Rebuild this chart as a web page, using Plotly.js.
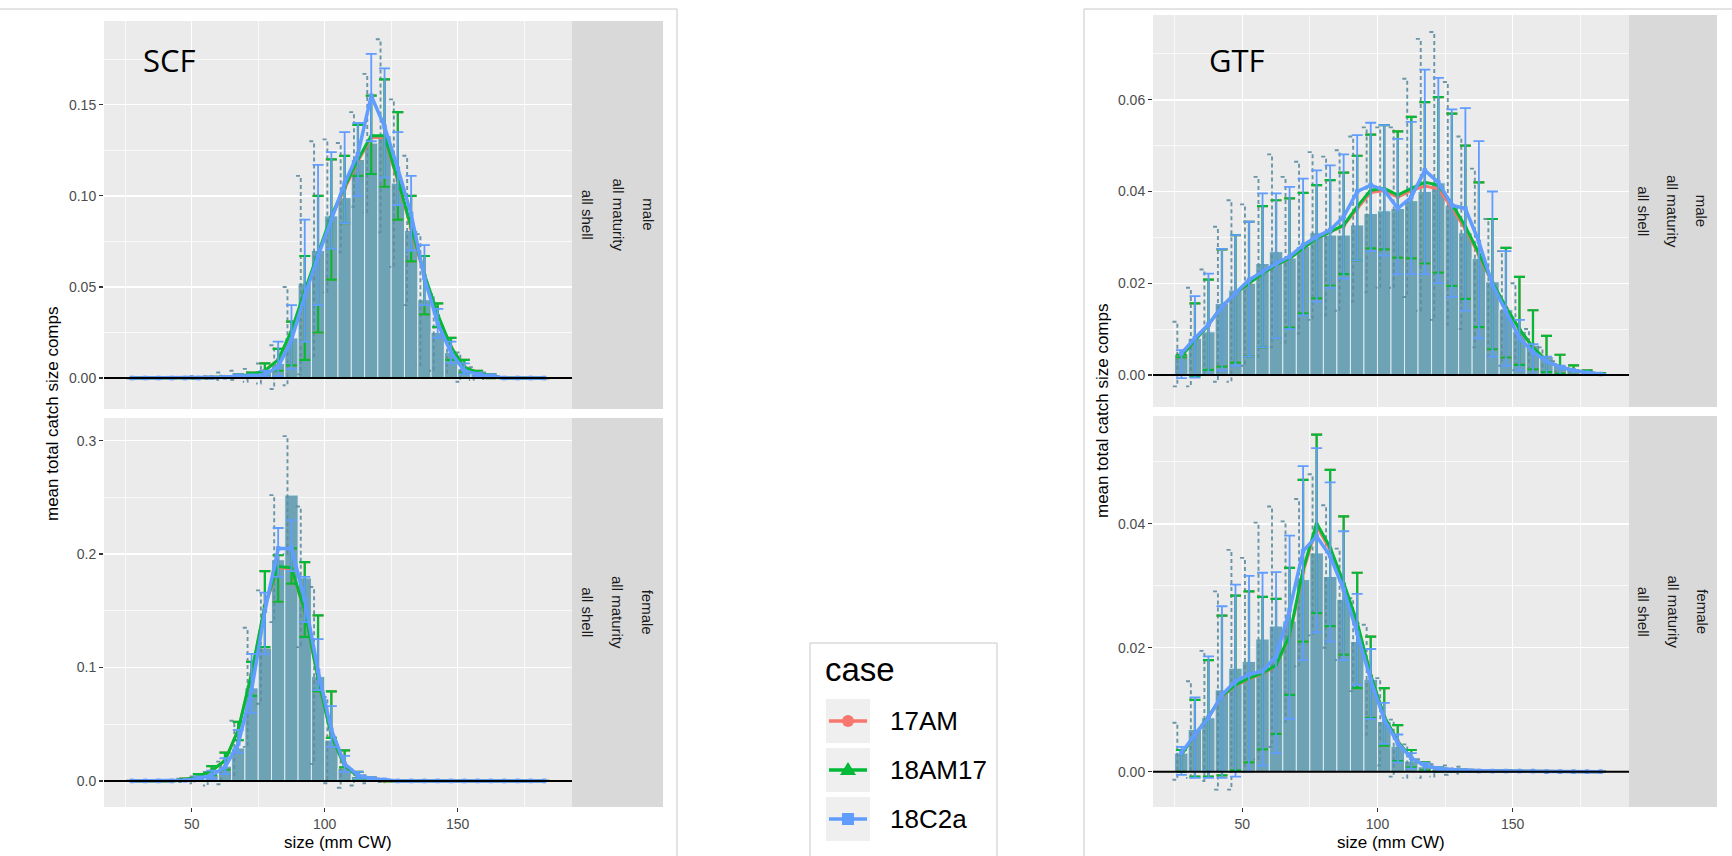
<!DOCTYPE html>
<html>
<head>
<meta charset="utf-8">
<script src="https://cdn.plot.ly/plotly-3.0.1.min.js"></script>
<style>
  html, body { margin: 0; padding: 0; background: #ffffff; }
  #chart { width: 1732px; height: 856px; }
</style>
</head>
<body>
<div id="chart"></div>
<script>
// size bins (mm CW)
const sizeBins = [27.5, 32.5, 37.5, 42.5, 47.5, 52.5, 57.5, 62.5, 67.5, 72.5, 77.5, 82.5, 87.5, 92.5, 97.5, 102.5,
                  107.5, 112.5, 117.5, 122.5, 127.5, 132.5, 137.5, 142.5, 147.5, 152.5, 157.5, 162.5, 167.5, 172.5, 177.5, 182.5];
const caseNames = ['17AM', '18AM17', '18C2a'];
const caseColors = ['#F8766D', '#00BA38', '#619CFF'];

// SCF male
const scfMaleObs   = [0,0,0,0,0,0.0003,0.0005,0.001,0.0015,0.002,0.004,0.008,0.022,0.052,0.070,0.089,0.099,0.120,0.129,0.133,0.107,0.081,0.043,0.025,0.014,0.005,0.002,0.001,0,0,0,0];
const scfMaleObsLo = [0,0,0,0,0,-0.0005,-0.0005,-0.001,-0.001,-0.002,-0.003,-0.006,-0.004,0.002,0.012,0.047,0.069,0.094,0.091,0.080,0.061,0.040,0.007,0.004,0.003,-0.002,-0.001,-0.0005,0,0,0,0];
const scfMaleObsHi = [0,0,0,0,0,0.001,0.001,0.003,0.004,0.005,0.008,0.018,0.050,0.111,0.130,0.131,0.129,0.146,0.167,0.186,0.153,0.122,0.079,0.046,0.025,0.014,0.006,0.003,0.001,0,0,0];
const scfMale17AM  = [0,0,0,0,0,0,0.0003,0.0006,0.001,0.002,0.004,0.010,0.025,0.047,0.067,0.088,0.104,0.119,0.132,0.132,0.108,0.082,0.056,0.034,0.017,0.006,0.003,0.001,0,0,0,0];
const scfMale18AM17= [0,0,0,0,0,0,0.0003,0.0006,0.001,0.002,0.004,0.010,0.026,0.048,0.068,0.089,0.105,0.120,0.133,0.133,0.109,0.083,0.057,0.035,0.017,0.006,0.003,0.001,0,0,0,0];
const scfMale18C2a = [0,0,0,0,0,0,0.0002,0.0004,0.001,0.001,0.002,0.006,0.021,0.045,0.067,0.087,0.107,0.123,0.155,0.138,0.115,0.090,0.055,0.030,0.014,0.004,0.002,0.001,0,0,0,0];
const scfMaleAmLo  = [0,0,0,0,0,0,0,0.0002,0.0004,0.001,0.001,0.004,0.007,0.010,0.025,0.054,0.085,0.111,0.112,0.105,0.087,0.064,0.035,0.028,0.010,0.003,0.001,0,0,0,0,0];
const scfMaleAmHi  = [0,0,0,0,0,0,0.0006,0.001,0.002,0.003,0.008,0.016,0.031,0.067,0.100,0.120,0.122,0.139,0.155,0.164,0.146,0.100,0.067,0.041,0.022,0.010,0.004,0.002,0,0,0,0];
const scfMaleC2aLo = [0,0,0,0,0,0,0,0,0.0004,0.0005,0.001,0.001,0.005,0.020,0.040,0.071,0.085,0.100,0.130,0.110,0.095,0.070,0.040,0.022,0.008,0.002,0.001,0,0,0,0,0];
const scfMaleC2aHi = [0,0,0,0,0,0,0.0005,0.001,0.002,0.002,0.004,0.020,0.040,0.087,0.117,0.124,0.135,0.140,0.178,0.170,0.135,0.111,0.073,0.038,0.020,0.008,0.003,0.002,0,0,0,0];

// SCF female
const scfFemObs    = [0,0,0,0,0.001,0.002,0.005,0.013,0.029,0.082,0.117,0.195,0.252,0.179,0.092,0.036,0.011,0.004,0.001,0,0,0,0,0,0,0,0,0,0,0,0,0];
const scfFemObsLo  = [0,0,0,0,-0.001,-0.002,-0.004,-0.003,0.005,0.030,0.068,0.140,0.200,0.118,0.015,-0.002,-0.006,-0.004,-0.002,-0.001,0,0,0,0,0,0,0,0,0,0,0,0];
const scfFemObsHi  = [0,0,0,0,0.002,0.004,0.008,0.017,0.053,0.135,0.168,0.252,0.304,0.242,0.171,0.074,0.027,0.010,0.005,0.002,0,0,0,0,0,0,0,0,0,0,0,0];
const scfFem17AM   = [0,0,0,0,0.001,0.004,0.009,0.018,0.045,0.094,0.154,0.188,0.187,0.149,0.090,0.040,0.013,0.004,0.001,0,0,0,0,0,0,0,0,0,0,0,0,0];
const scfFem18AM17 = [0,0,0,0,0.001,0.004,0.009,0.018,0.045,0.095,0.155,0.189,0.188,0.150,0.090,0.040,0.013,0.004,0.001,0,0,0,0,0,0,0,0,0,0,0,0,0];
const scfFem18C2a  = [0,0,0,0,0.0005,0.002,0.005,0.012,0.033,0.080,0.150,0.205,0.205,0.160,0.097,0.045,0.015,0.005,0.002,0.001,0,0,0,0,0,0,0,0,0,0,0,0];
const scfFemAmLo   = [0,0,0,0,0,0.002,0.005,0.010,0.036,0.075,0.118,0.158,0.174,0.127,0.079,0.038,0.012,0.002,0,0,0,0,0,0,0,0,0,0,0,0,0,0];
const scfFemAmHi   = [0,0,0,0,0.002,0.006,0.013,0.025,0.052,0.105,0.185,0.199,0.205,0.193,0.146,0.079,0.027,0.008,0.003,0.001,0,0,0,0,0,0,0,0,0,0,0,0];
const scfFemC2aLo  = [0,0,0,0,0,0.001,0.002,0.006,0.025,0.060,0.112,0.180,0.185,0.140,0.080,0.030,0.008,0.002,0.001,0,0,0,0,0,0,0,0,0,0,0,0,0];
const scfFemC2aHi  = [0,0,0,0,0.001,0.004,0.009,0.020,0.045,0.112,0.166,0.223,0.230,0.180,0.125,0.066,0.022,0.008,0.003,0.001,0,0,0,0,0,0,0,0,0,0,0,0];

// GTF male
const gtfMaleObs   = [0.0045,0.008,0.0094,0.0156,0.0185,0.020,0.0243,0.0269,0.0255,0.028,0.031,0.0305,0.0305,0.0327,0.0352,0.0358,0.0363,0.038,0.040,0.0419,0.037,0.031,0.0254,0.0203,0.0142,0.0095,0.0065,0.004,0.002,0.001,0.0005,0.0002];
const gtfMaleObsLo = [-0.0025,-0.0025,0.0,-0.0015,-0.0015,0.002,0.004,0.006,0.007,0.009,0.012,0.013,0.014,0.016,0.018,0.019,0.019,0.017,0.014,0.012,0.011,0.010,0.006,0.004,0.002,0.001,0,0,0,0,0,0];
const gtfMaleObsHi = [0.0116,0.019,0.023,0.0323,0.0381,0.0372,0.0432,0.0481,0.0432,0.0465,0.0486,0.0476,0.049,0.052,0.054,0.054,0.054,0.0646,0.0733,0.0748,0.0639,0.052,0.045,0.034,0.027,0.020,0.010,0.006,0.003,0.0015,0.0008,0.0003];
const gtfMale17AM  = [0.0041,0.0076,0.0109,0.015,0.0178,0.020,0.0221,0.024,0.0254,0.0276,0.0298,0.0312,0.0325,0.0363,0.0398,0.0402,0.0388,0.0402,0.0412,0.0406,0.0365,0.0318,0.0262,0.020,0.0147,0.0099,0.006,0.0031,0.0017,0.001,0.0005,0.0002];
const gtfMale18AM17= [0.0041,0.0076,0.0109,0.015,0.0178,0.020,0.0221,0.024,0.0254,0.0276,0.0298,0.0312,0.0327,0.0367,0.0403,0.0407,0.0392,0.0407,0.042,0.0414,0.0373,0.0324,0.0265,0.0202,0.0148,0.010,0.006,0.0031,0.0017,0.001,0.0005,0.0002];
const gtfMale18C2a = [0.0047,0.008,0.011,0.0149,0.0178,0.0207,0.0225,0.0243,0.0258,0.0283,0.0301,0.0316,0.0345,0.040,0.0414,0.0403,0.0363,0.0388,0.0446,0.042,0.037,0.0363,0.029,0.0197,0.0139,0.008,0.005,0.003,0.0017,0.001,0.0005,0.0002];
const gtfMaleAmLo  = [0.0038,-0.0003,0.0011,0.0018,0.0027,0.004,0.006,0.008,0.0103,0.0134,0.0167,0.0195,0.022,0.025,0.0276,0.0274,0.0256,0.0254,0.0243,0.0223,0.0194,0.0166,0.0104,0.0056,0.0038,0.0022,0.0012,0.0006,0.0003,0,0,0];
const gtfMaleAmHi  = [0.0044,0.0156,0.0208,0.0274,0.0305,0.0334,0.0368,0.0381,0.0385,0.0397,0.0414,0.0425,0.0441,0.0478,0.0524,0.0545,0.0531,0.0563,0.0595,0.0606,0.057,0.050,0.042,0.034,0.0277,0.0214,0.0141,0.0085,0.0044,0.0021,0.001,0.0004];
const gtfMaleC2aLo = [-0.0007,-0.0006,0.0,0.001,0.002,0.004,0.006,0.008,0.010,0.013,0.016,0.019,0.021,0.025,0.027,0.026,0.022,0.022,0.022,0.020,0.017,0.014,0.008,0.004,0.002,0.001,0,0,0,0,0,0];
const gtfMaleC2aHi = [0.0054,0.0172,0.0221,0.0275,0.0305,0.0334,0.0396,0.0396,0.041,0.0428,0.0446,0.0457,0.0481,0.0523,0.055,0.0545,0.0515,0.0552,0.0666,0.0648,0.0579,0.0582,0.051,0.040,0.027,0.012,0.0067,0.004,0.002,0.001,0.0005,0.0002];

// GTF female
const gtfFemObs    = [0.003,0.0068,0.0087,0.0132,0.0167,0.0178,0.0214,0.0235,0.0243,0.031,0.0353,0.0315,0.0278,0.021,0.0149,0.0081,0.0041,0.0017,0.0008,0.0004,0.0002,0.0002,0.0001,0.0001,0.0001,0.0001,0.0001,0,0,0,0,0];
const gtfFemObsLo  = [-0.0013,-0.001,-0.0015,-0.0029,-0.0029,0.0,0.002,0.004,0.008,0.017,0.022,0.020,0.018,0.013,0.006,0.001,-0.0008,-0.001,-0.001,-0.0008,-0.0005,-0.0003,0,0,0,0,0,0,0,0,0,0];
const gtfFemObsHi  = [0.0079,0.0146,0.0195,0.0291,0.0358,0.0345,0.0402,0.0428,0.0404,0.044,0.048,0.043,0.036,0.028,0.0237,0.0151,0.0084,0.0044,0.002,0.0012,0.001,0.0008,0.0003,0.0002,0.0002,0.0001,0.0001,0,0,0,0,0];
const gtfFem17AM   = [0.0027,0.006,0.0088,0.0121,0.0139,0.015,0.0158,0.0171,0.0218,0.0322,0.0396,0.0358,0.0302,0.0239,0.0155,0.0088,0.0049,0.0022,0.001,0.0005,0.0003,0.0002,0.0001,0.0001,0.0001,0.0001,0.0001,0,0,0,0,0];
const gtfFem18AM17 = [0.0027,0.006,0.0089,0.0122,0.014,0.0151,0.0159,0.0172,0.022,0.0326,0.0401,0.0362,0.0305,0.0241,0.0156,0.0089,0.0049,0.0022,0.001,0.0005,0.0003,0.0002,0.0001,0.0001,0.0001,0.0001,0.0001,0,0,0,0,0];
const gtfFem18C2a  = [0.003,0.006,0.0087,0.0124,0.0146,0.0157,0.0162,0.0186,0.0261,0.0356,0.038,0.0348,0.0294,0.0224,0.0148,0.0084,0.0046,0.0022,0.001,0.0005,0.0003,0.0002,0.0001,0.0001,0.0001,0.0001,0.0001,0,0,0,0,0];
const gtfFemAmLo   = [0.0,-0.0008,-0.0008,-0.0006,0.0002,0.0015,0.0036,0.0061,0.0124,0.021,0.0256,0.0235,0.0189,0.0135,0.0087,0.0042,0.0017,0.0007,0.0002,0,0,0,0,0,0,0,0,0,0,0,0,0];
const gtfFemAmHi   = [0.0035,0.0116,0.018,0.0252,0.0284,0.0291,0.0282,0.0279,0.0329,0.0471,0.0544,0.0487,0.0412,0.0321,0.0218,0.0135,0.0075,0.0035,0.0015,0.0007,0.0004,0.0002,0.0002,0.0002,0.0002,0.0001,0.0001,0,0,0,0,0];
const gtfFemC2aLo  = [-0.0005,-0.001,-0.001,-0.001,-0.0008,0.0,0.001,0.003,0.0085,0.018,0.0225,0.021,0.018,0.014,0.0085,0.0045,0.0015,0.0005,0,0,0,0,0,0,0,0,0,0,0,0,0,0];
const gtfFemC2aHi  = [0.004,0.012,0.0186,0.0267,0.0302,0.0316,0.0321,0.0322,0.0381,0.0493,0.0522,0.0467,0.0388,0.0287,0.0198,0.0111,0.006,0.003,0.0014,0.0007,0.0004,0.0002,0.0002,0.0002,0.0002,0.0001,0.0001,0,0,0,0,0];

const W = 1732, H = 856;
const px = v => v / W;
const py = v => 1 - v / H;
const font = 'Liberation Sans, Arial, sans-serif';

function dashedBars(lo, hi) {
  // dodged observed-interval bars, drawn as one dashed path
  const xs = [], ys = [];
  sizeBins.forEach((x, i) => {
    if (hi[i] === lo[i]) return;
    xs.push(x - 3.3, x - 1.5, x - 1.5, x - 3.3, null);
    ys.push(hi[i], hi[i], lo[i], lo[i], null);
  });
  return {xs, ys};
}

function caseTrace(xa, ya, k, mean, lo, hi) {
  const symbols = ['circle', 'triangle-up', 'square'];
  return {
    x: sizeBins, y: mean, xaxis: xa, yaxis: ya,
    type: 'scatter', mode: 'lines+markers', name: caseNames[k],
    line: {color: caseColors[k], width: k === 2 ? 3.5 : 3},
    marker: {color: caseColors[k], size: 4.5, symbol: symbols[k]},
    error_y: {
      type: 'data', symmetric: false,
      array: hi.map((h, i) => Math.max(0, h - mean[i])),
      arrayminus: lo.map((l, i) => Math.max(0, mean[i] - l)),
      color: caseColors[k], thickness: k === 2 ? 1.8 : 2.2, width: 5.5
    },
    hoverinfo: 'skip'
  };
}

function facet(xa, ya, obs, obsLo, obsHi, m17, m18, mC2a, amLo, amHi, cLo, cHi) {
  const d = dashedBars(obsLo, obsHi);
  return [
    {x: sizeBins, y: obs, xaxis: xa, yaxis: ya, type: 'bar', width: 5,
     marker: {color: '#6ea3b5', line: {color: 'rgba(235,244,248,0.85)', width: 1}}, hoverinfo: 'skip'},
    {x: d.xs, y: d.ys, xaxis: xa, yaxis: ya, type: 'scatter', mode: 'lines',
     line: {color: 'rgba(92,140,158,0.9)', width: 1.9, dash: '4px,3px'}, hoverinfo: 'skip'},
    caseTrace(xa, ya, 0, m17, amLo, amHi),
    caseTrace(xa, ya, 1, m18, amLo, amHi),
    caseTrace(xa, ya, 2, mC2a, cLo, cHi)
  ];
}

const data = [].concat(
  facet('x', 'y', scfMaleObs, scfMaleObsLo, scfMaleObsHi, scfMale17AM, scfMale18AM17, scfMale18C2a, scfMaleAmLo, scfMaleAmHi, scfMaleC2aLo, scfMaleC2aHi),
  facet('x2', 'y2', scfFemObs, scfFemObsLo, scfFemObsHi, scfFem17AM, scfFem18AM17, scfFem18C2a, scfFemAmLo, scfFemAmHi, scfFemC2aLo, scfFemC2aHi),
  facet('x3', 'y3', gtfMaleObs, gtfMaleObsLo, gtfMaleObsHi, gtfMale17AM, gtfMale18AM17, gtfMale18C2a, gtfMaleAmLo, gtfMaleAmHi, gtfMaleC2aLo, gtfMaleC2aHi),
  facet('x4', 'y4', gtfFemObs, gtfFemObsLo, gtfFemObsHi, gtfFem17AM, gtfFem18AM17, gtfFem18C2a, gtfFemAmLo, gtfFemAmHi, gtfFemC2aLo, gtfFemC2aHi)
);

const leftX = [px(104), px(572)];
const rightX = [px(1153), px(1629)];

function xAxis(domain, anchor, labels) {
  return {
    domain: domain, anchor: anchor, range: [17, 193],
    tick0: 0, dtick: 50, showticklabels: labels,
    ticks: labels ? 'outside' : '', ticklen: 4, tickwidth: 1.2, tickcolor: '#333333',
    tickfont: {family: font, size: 14, color: '#4d4d4d'},
    showgrid: true, gridcolor: '#ffffff', gridwidth: 1.4,
    minor: {dtick: 25, showgrid: true, gridcolor: '#ffffff', gridwidth: 0.7},
    zeroline: false, showline: false, fixedrange: true
  };
}
function yAxis(domain, anchor, range, dtick, fmt) {
  return {
    domain: domain, anchor: anchor, range: range,
    tick0: 0, dtick: dtick, tickformat: fmt,
    ticks: 'outside', ticklen: 4, tickwidth: 1.2, tickcolor: '#333333',
    tickfont: {family: font, size: 14, color: '#4d4d4d'},
    showgrid: true, gridcolor: '#ffffff', gridwidth: 1.4,
    minor: {dtick: dtick / 2, showgrid: true, gridcolor: '#ffffff', gridwidth: 0.7},
    zeroline: false, showline: false, fixedrange: true
  };
}

const shapes = [];
const annotations = [];
// every text is placed by its centre unless told otherwise
function label(x, y, text, size, extra) {
  annotations.push(Object.assign({xref: 'paper', yref: 'paper', x: px(x), y: py(y), text: text,
    showarrow: false, xanchor: 'center', yanchor: 'middle',
    font: {family: font, size: size, color: '#000000'}}, extra || {}));
}

// outer frames of the two plots
shapes.push({type: 'line', xref: 'paper', yref: 'paper', x0: 0, x1: px(677), y0: py(9), y1: py(9), line: {color: '#c8c8c8', width: 1}});
shapes.push({type: 'line', xref: 'paper', yref: 'paper', x0: px(677), x1: px(677), y0: py(9), y1: 0, line: {color: '#c8c8c8', width: 1}});
shapes.push({type: 'line', xref: 'paper', yref: 'paper', x0: px(1084), x1: 1, y0: py(9), y1: py(9), line: {color: '#c8c8c8', width: 1}});
shapes.push({type: 'line', xref: 'paper', yref: 'paper', x0: px(1084), x1: px(1084), y0: py(9), y1: 0, line: {color: '#c8c8c8', width: 1}});

// zero reference lines
['', '2', '3', '4'].forEach(n => {
  shapes.push({type: 'line', xref: 'x' + n + ' domain', yref: 'y' + n, x0: 0, x1: 1, y0: 0, y1: 0,
               line: {color: '#000000', width: 2}, layer: 'above'});
});

// facet strips
const strips = [
  {x0: 572, x1: 663, y0: 21, y1: 409, labels: ['all shell', 'all maturity', 'male']},
  {x0: 572, x1: 663, y0: 418, y1: 807, labels: ['all shell', 'all maturity', 'female']},
  {x0: 1629, x1: 1717, y0: 15, y1: 407, labels: ['all shell', 'all maturity', 'male']},
  {x0: 1629, x1: 1717, y0: 416, y1: 807, labels: ['all shell', 'all maturity', 'female']}
];
strips.forEach(s => {
  shapes.push({type: 'rect', xref: 'paper', yref: 'paper', x0: px(s.x0), x1: px(s.x1), y0: py(s.y1), y1: py(s.y0),
               fillcolor: '#d9d9d9', line: {width: 0}, layer: 'below'});
  const step = (s.x1 - s.x0) / 3;
  s.labels.forEach((t, i) => {
    label(s.x0 + step * (i + 0.5), (s.y0 + s.y1) / 2, t, 15, {textangle: 90, font: {family: font, size: 15, color: '#1a1a1a'}});
  });
});

// plot labels
label(169, 60, 'SCF', 31, {font: {family: 'Open Sans, Noto Sans, sans-serif', size: 31, color: '#000000'}});
label(1237, 60, 'GTF', 31, {font: {family: 'Open Sans, Noto Sans, sans-serif', size: 31, color: '#000000'}});

// axis titles
label(52, 414, 'mean total catch size comps', 17, {textangle: -90});
label(1102, 411, 'mean total catch size comps', 17, {textangle: -90});
label(338, 842, 'size (mm CW)', 17);
label(1391, 842, 'size (mm CW)', 17);

// legend, drawn by hand to match the ggplot key boxes
shapes.push({type: 'rect', xref: 'paper', yref: 'paper', x0: px(810), x1: px(997), y0: py(860), y1: py(643),
             fillcolor: '#ffffff', line: {color: '#c8c8c8', width: 1}});
label(823, 669, 'case', 33, {xanchor: 'left'});
caseNames.forEach((name, k) => {
  const top = 699 + k * 49, cy = top + 22;
  shapes.push({type: 'rect', xref: 'paper', yref: 'paper', x0: px(826), x1: px(870), y0: py(top + 44), y1: py(top),
               fillcolor: '#efefef', line: {width: 0}});
  shapes.push({type: 'line', xref: 'paper', yref: 'paper', x0: px(829), x1: px(867), y0: py(cy), y1: py(cy),
               line: {color: caseColors[k], width: 3.5}});
  if (k === 0) {
    shapes.push({type: 'circle', xref: 'paper', yref: 'paper', x0: px(842), x1: px(854), y0: py(cy + 6), y1: py(cy - 6),
                 fillcolor: caseColors[k], line: {width: 0}});
  } else if (k === 1) {
    shapes.push({type: 'path', xref: 'paper', yref: 'paper',
                 path: 'M ' + px(848) + ' ' + py(cy - 8) + ' L ' + px(840) + ' ' + py(cy + 5) + ' L ' + px(856) + ' ' + py(cy + 5) + ' Z',
                 fillcolor: caseColors[k], line: {width: 0}});
  } else {
    shapes.push({type: 'rect', xref: 'paper', yref: 'paper', x0: px(842), x1: px(854), y0: py(cy + 6), y1: py(cy - 6),
                 fillcolor: caseColors[k], line: {width: 0}});
  }
  label(888, cy, name, 26, {xanchor: 'left'});
});

const layout = {
  width: W, height: H,
  margin: {l: 0, r: 0, t: 0, b: 0},
  paper_bgcolor: '#ffffff', plot_bgcolor: '#ebebeb',
  showlegend: false, barmode: 'overlay', bargap: 0,
  font: {family: font},
  xaxis: xAxis(leftX, 'y', false),
  xaxis2: xAxis(leftX, 'y2', true),
  xaxis3: xAxis(rightX, 'y3', false),
  xaxis4: xAxis(rightX, 'y4', true),
  yaxis: yAxis([py(409), py(21)], 'x', [-0.017, 0.196], 0.05, '.2f'),
  yaxis2: yAxis([py(807), py(418)], 'x2', [-0.023, 0.320], 0.1, '.1f'),
  yaxis3: yAxis([py(407), py(15)], 'x3', [-0.007, 0.0785], 0.02, '.2f'),
  yaxis4: yAxis([py(807), py(416)], 'x4', [-0.0057, 0.0574], 0.02, '.2f'),
  shapes: shapes,
  annotations: annotations
};

Plotly.newPlot('chart', data, layout, {staticPlot: true, displayModeBar: false});
</script>
</body>
</html>
